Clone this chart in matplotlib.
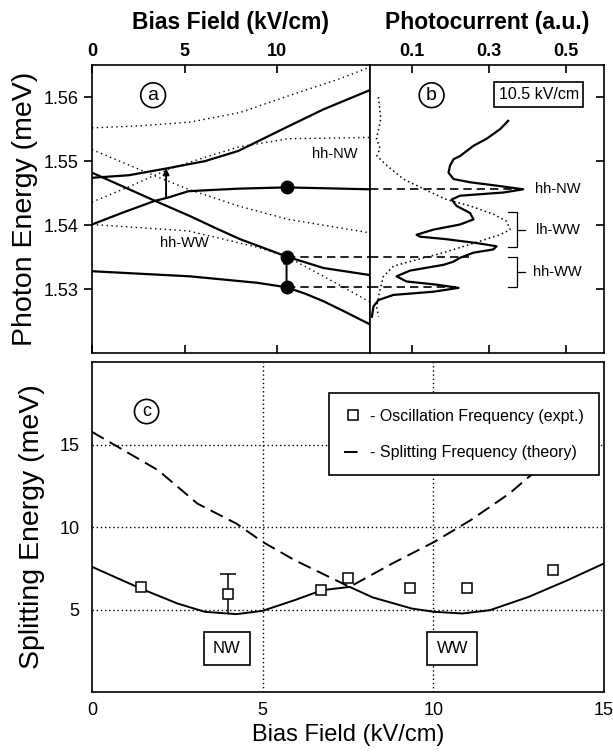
import numpy as np
import matplotlib.pyplot as plt
from matplotlib.lines import Line2D

plt.rcParams['font.family'] = ['Liberation Sans', 'DejaVu Sans']
plt.rcParams['axes.linewidth'] = 1.2

# ---- panel (a): level anticrossing vs bias field ----
f_up   = [0, 2.0, 4.1, 6.1, 7.9, 10.5, 12.5, 15.0]
e_up   = [1.5474, 1.5478, 1.5489, 1.5500, 1.5516, 1.5553, 1.5581, 1.5611]
f_nw   = [0, 1.7, 3.4, 4.1, 5.2, 6.5, 7.9, 10.5, 15.0]
e_nw   = [1.5401, 1.5420, 1.5438, 1.5443, 1.5453, 1.5455, 1.5457, 1.5459, 1.5456]
f_ww   = [0, 3.4, 5.3, 6.7, 8.0, 9.3, 10.5, 12.5, 15.0]
e_ww   = [1.5482, 1.5438, 1.5414, 1.5395, 1.5378, 1.5364, 1.5351, 1.5333, 1.5322]
f_low  = [0, 5.3, 8.9, 10.5, 11.5, 12.5, 13.7, 15.0]
e_low  = [1.5328, 1.5320, 1.5310, 1.5303, 1.5293, 1.5281, 1.5264, 1.5245]

# uncoupled levels (dotted)
f_d1 = [0, 2.5, 5.3, 8.0, 10.7, 13.4, 15.0]
e_d1 = [1.5552, 1.5555, 1.5561, 1.5576, 1.5603, 1.5629, 1.5647]
f_d2 = [0, 2.0, 4.1, 6.1, 7.9, 10.6, 15.0]
e_d2 = [1.5436, 1.5460, 1.5487, 1.5506, 1.5522, 1.5535, 1.5537]
f_d3 = [0, 3.4, 5.2, 7.9, 10.6, 15.0]
e_d3 = [1.5518, 1.5477, 1.5456, 1.5430, 1.5409, 1.5388]
f_d4 = [0, 5.2, 7.1, 9.0, 10.5, 12.5, 15.0]
e_d4 = [1.5401, 1.5391, 1.5378, 1.5365, 1.5351, 1.5320, 1.5280]

f_mark = 10.5
e_mark = [1.5459, 1.5351, 1.5303]
arrows = [(4.0, 1.5443, 1.5489), (10.5, 1.5303, 1.5351)]

# ---- panel (b): photocurrent spectra at 10.5 kV/cm ----
pc_solid = [0.351, 0.330, 0.295, 0.261, 0.226, 0.209, 0.200, 0.196, 0.209, 0.252,
            0.330, 0.390, 0.339, 0.226, 0.204, 0.217, 0.252, 0.261, 0.226, 0.157,
            0.113, 0.122, 0.191, 0.269, 0.321, 0.312, 0.261, 0.226, 0.209, 0.183,
            0.096, 0.061, 0.087, 0.165, 0.222, 0.157, 0.053, 0.014, 0.001, -0.003]
e_solid  = [1.5563, 1.5550, 1.5535, 1.5524, 1.5508, 1.5503, 1.5493, 1.5482, 1.5472, 1.5467,
            1.5461, 1.5456, 1.5451, 1.5446, 1.5440, 1.5430, 1.5419, 1.5409, 1.5401, 1.5393,
            1.5385, 1.5382, 1.5378, 1.5372, 1.5367, 1.5362, 1.5357, 1.5349, 1.5343, 1.5338,
            1.5329, 1.5320, 1.5312, 1.5307, 1.5302, 1.5296, 1.5291, 1.5283, 1.5273, 1.5257]
pc_dot = [0.014, 0.020, 0.009, 0.018, 0.010, 0.036, 0.079, 0.140, 0.191, 0.252, 0.313,
          0.347, 0.356, 0.330, 0.252, 0.183, 0.113, 0.053, 0.027, 0.018, 0.009, 0.014]
e_dot  = [1.5600, 1.5566, 1.5535, 1.5520, 1.5508, 1.5493, 1.5472, 1.5454, 1.5440, 1.5430,
          1.5417, 1.5406, 1.5393, 1.5385, 1.5370, 1.5357, 1.5346, 1.5336, 1.5320, 1.5299,
          1.5273, 1.5257]
dash_e   = [1.5457, 1.5351, 1.5303]
dash_end = [0.39, 0.25, 0.215]
peak_names = ['hh-NW', 'lh-WW', 'hh-WW']
peak_pos   = [1.5456, 1.5393, 1.5327]
brackets   = [(1.5420, 1.5366), (1.5350, 1.5303)]

# ---- panel (c): splitting energy ----
x_expt = [1.43, 4.0, 6.72, 7.51, 9.31, 11.0, 13.52]
y_expt = [6.37, 5.97, 6.17, 6.92, 6.31, 6.31, 7.38]
err_expt = [0, 1.2, 0, 0, 0, 0, 0]
x_low = [0, 1.43, 2.51, 3.31, 4.23, 5.0, 5.94, 6.74, 7.55, 8.23, 9.37, 10.03,
         10.86, 11.66, 12.8, 13.94, 15.0]
y_low = [7.59, 6.27, 5.36, 4.86, 4.72, 4.92, 5.57, 6.17, 6.37, 5.73, 5.06, 4.86,
         4.76, 4.96, 5.77, 6.78, 7.79]
x_high = [0, 1.94, 3.09, 4.23, 5.0, 5.94, 7.55, 8.8, 10.03, 11.09, 12.23, 12.8, 13.6]
y_high = [15.77, 13.44, 11.42, 10.21, 9.1, 7.99, 6.37, 7.79, 9.1, 10.41, 12.03, 13.04, 14.2]

fig = plt.figure(figsize=(6.13, 7.53), dpi=100)
ax_a = fig.add_axes([0.150, 0.531, 0.4535, 0.3825])
ax_b = fig.add_axes([0.6036, 0.531, 0.3817, 0.3825])
ax_c = fig.add_axes([0.150, 0.081, 0.8352, 0.4382])

# panel a
for f, e in [(f_d1, e_d1), (f_d2, e_d2), (f_d3, e_d3), (f_d4, e_d4)]:
    ax_a.plot(f, e, color='k', lw=1.0, ls=(0, (1, 2.5)))
for f, e in [(f_up, e_up), (f_nw, e_nw), (f_ww, e_ww), (f_low, e_low)]:
    ax_a.plot(f, e, color='k', lw=1.6)
ax_a.plot([f_mark] * 3, e_mark, 'o', color='k', ms=9)
ax_a.hlines(e_mark[1:], f_mark, 15, colors='k', lw=1.2, linestyles=(0, (5, 3)))
for xa, y0, y1 in arrows:
    ax_a.annotate('', xy=(xa, y1), xytext=(xa, y0),
                  arrowprops=dict(arrowstyle='-|>', color='k', lw=1.4,
                                  mutation_scale=9, shrinkA=0, shrinkB=0))
ax_a.text(13.1, 1.5511, 'hh-NW', fontsize=10.5, ha='center', va='center')
ax_a.text(5.0, 1.5372, 'hh-WW', fontsize=10.5, ha='center', va='center')
ax_a.text(3.3, 1.5603, 'a', fontsize=14, ha='center', va='center',
          bbox=dict(boxstyle='circle,pad=0.2', fc='white', ec='k', lw=1.2))
ax_a.set_xlim(0, 15)
ax_a.set_ylim(1.520, 1.565)
ax_a.set_xticks([0, 5, 10])
ax_a.set_yticks([1.53, 1.54, 1.55, 1.56])
ax_a.set_yticklabels(['1.53', '1.54', '1.55', '1.56'])
ax_a.xaxis.tick_top()
ax_a.xaxis.set_label_position('top')
ax_a.tick_params(axis='x', which='both', direction='in', length=6, width=1.2,
                 top=True, bottom=True, labelsize=13, pad=4)
ax_a.tick_params(axis='y', direction='out', length=6, width=1.2, labelsize=13)
for lab in ax_a.get_xticklabels():
    lab.set_fontweight('bold')
ax_a.set_xlabel('Bias Field (kV/cm)', fontsize=16.5, fontweight='bold', labelpad=10)
ax_a.set_ylabel('Photon Energy (meV)', fontsize=20.5, labelpad=4)

# panel b
ax_b.plot(pc_dot, e_dot, color='k', lw=1.1, ls=(0, (1, 2)))
ax_b.plot(pc_solid, e_solid, color='k', lw=1.6)
ax_b.hlines(dash_e, -0.008, dash_end, colors='k', lw=1.2, linestyles=(0, (5, 3)))
for name, pos in zip(peak_names, peak_pos):
    ax_b.text(0.48, pos, name, fontsize=10.5, ha='center', va='center')
for top, bot in brackets:
    ax_b.plot([0.35, 0.374, 0.374, 0.35], [top, top, bot, bot], color='k', lw=0.9)
    ax_b.plot([0.374, 0.395], [(top + bot) / 2] * 2, color='k', lw=0.9)
ax_b.text(0.152, 1.5603, 'b', fontsize=14, ha='center', va='center',
          bbox=dict(boxstyle='circle,pad=0.2', fc='white', ec='k', lw=1.2))
ax_b.text(0.43, 1.5604, '10.5 kV/cm', fontsize=11.5, ha='center', va='center',
          bbox=dict(boxstyle='square,pad=0.3', fc='white', ec='k', lw=1.2))
ax_b.set_xlim(-0.008, 0.6)
ax_b.set_ylim(1.520, 1.565)
ax_b.set_xticks([0.1, 0.3, 0.5])
ax_b.set_xticklabels(['0.1', '0.3', '0.5'])
ax_b.xaxis.tick_top()
ax_b.xaxis.set_label_position('top')
ax_b.tick_params(axis='x', which='both', direction='in', length=6, width=1.2,
                 top=True, bottom=True, labelsize=13, pad=4)
ax_b.set_yticks([1.53, 1.54, 1.55, 1.56])
ax_b.yaxis.tick_right()
ax_b.tick_params(axis='y', direction='in', length=6, width=1.2, labelright=False)
for lab in ax_b.get_xticklabels():
    lab.set_fontweight('bold')
ax_b.set_xlabel('Photocurrent (a.u.)', fontsize=16.5, fontweight='bold', labelpad=10)

# panel c
for gy in [5, 10, 15]:
    ax_c.axhline(gy, color='k', lw=1.0, ls=(0, (1, 2)), zorder=1)
for gx in [5, 10]:
    ax_c.axvline(gx, color='k', lw=1.0, ls=(0, (1, 2)), zorder=1)
ax_c.plot(x_low, y_low, color='k', lw=1.4, zorder=2)
ax_c.plot(x_high, y_high, color='k', lw=1.4, ls=(0, (7, 3.5)), zorder=2)
yerr = np.array(err_expt)
has_err = yerr > 0
ax_c.vlines(np.array(x_expt)[has_err], (np.array(y_expt) - yerr)[has_err],
            (np.array(y_expt) + yerr)[has_err], colors='k', lw=1.1, zorder=3)
ax_c.plot(np.array(x_expt)[has_err], (np.array(y_expt) + yerr)[has_err], '_',
          color='k', ms=11, mew=1.1, zorder=3)
ax_c.plot(x_expt, y_expt, 's', mfc='white', mec='k', mew=1.1, ms=6.5, zorder=4)
ax_c.text(1.6, 17.0, 'c', fontsize=13, ha='center', va='center',
          bbox=dict(boxstyle='circle,pad=0.2', fc='white', ec='k', lw=1.2))
ax_c.text(3.95, 2.65, 'NW', fontsize=12, ha='center', va='center', zorder=5,
          bbox=dict(boxstyle='square,pad=0.55', fc='white', ec='k', lw=1.2))
ax_c.text(10.56, 2.65, 'WW', fontsize=12, ha='center', va='center', zorder=5,
          bbox=dict(boxstyle='square,pad=0.55', fc='white', ec='k', lw=1.2))
handles = [Line2D([], [], ls='none', marker='s', mfc='white', mec='k', ms=6.5, mew=1.1),
           Line2D([], [], color='k', lw=1.4, ls=(0, (7, 3.5)))]
leg = ax_c.legend(handles, ['- Oscillation Frequency (expt.)', '- Splitting Frequency (theory)'],
                  loc='upper right', bbox_to_anchor=(0.99, 0.905), fontsize=11.5,
                  frameon=True, fancybox=False, framealpha=1, edgecolor='k',
                  handlelength=1.1, handletextpad=0.5, labelspacing=1.35,
                  borderpad=0.95, borderaxespad=0)
leg.get_frame().set_linewidth(1.2)
leg.set_zorder(6)
ax_c.set_xlim(0, 15)
ax_c.set_ylim(0, 20)
ax_c.set_xticks([0, 5, 10, 15])
ax_c.set_yticks([5, 10, 15])
ax_c.tick_params(axis='x', length=0, labelsize=13, pad=7)
ax_c.tick_params(axis='y', length=0, labelsize=13, pad=9)
ax_c.set_xlabel('Bias Field (kV/cm)', fontsize=17, labelpad=4)
ax_c.set_ylabel('Splitting Energy (meV)', fontsize=20.5, labelpad=10)

fig.savefig('out.png', dpi=100)
